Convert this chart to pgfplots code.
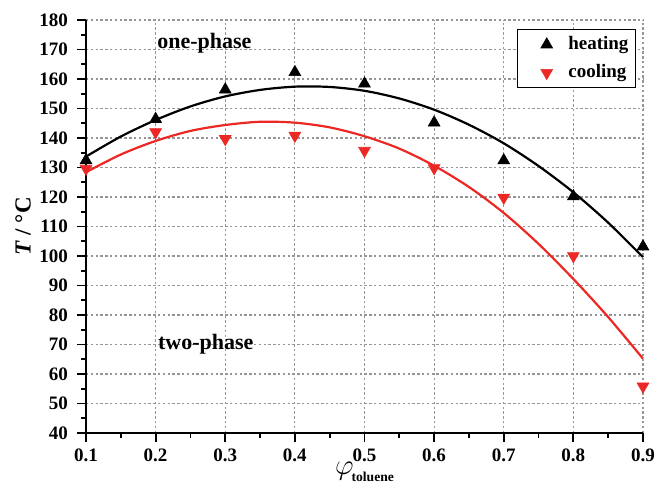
\documentclass[border=0pt]{standalone}
\usepackage{fontspec}
\setmainfont{Liberation Serif}
\usepackage{pgfplots}
\pgfplotsset{compat=1.18}
\definecolor{myred}{RGB}{236,40,36}
\definecolor{gridgray}{RGB}{150,150,150}
\begin{document}
\begin{tikzpicture}
\begin{axis}[
  name=main,
  scale only axis,
  width=278.5pt, height=206.5pt,
  xmin=0.1, xmax=0.9, ymin=40, ymax=180,
  xtick={0.1,0.2,...,0.9},
  ytick={40,50,...,180},
  xticklabels={0.1,0.2,0.3,0.4,0.5,0.6,0.7,0.8,0.9},
  minor x tick num=1, minor y tick num=1,
  axis lines*=left,
  axis line style={line width=1.1pt},
  tick align=outside,
  major tick length=4.5pt, minor tick length=2.5pt,
  every tick/.style={black, line width=0.9pt},
  xmajorgrids=true, ymajorgrids=true,
  grid style={gridgray, dash pattern=on 1.2pt off 1.2pt, line width=0.55pt},
  major grid style={gridgray, dash pattern=on 1.2pt off 1.2pt, line width=0.55pt},
  /pgf/number format/assume math mode=true,
  ticklabel style={font=\fontsize{9.5}{11}\selectfont\bfseries},
  yticklabel style={xshift=-1pt},
  clip=false,
  legend style={at={(1,1)}, anchor=north east, xshift=-3.5pt, yshift=-4.5pt,
    draw=black, line width=0.5pt, font=\fontsize{9.5}{11}\selectfont\bfseries,
    row sep=2pt, inner xsep=1.5pt, inner ysep=1.5pt},
  legend cell align=left,
]
\addplot[only marks, mark=triangle*, mark size=3.4pt, black, mark options={line width=0.3pt},
  legend image code/.code={\path (0cm,0cm) (0.75cm,0cm); \draw[mark repeat=2,mark phase=2] plot coordinates {(0cm,0cm)(0.45cm,0cm)(0.75cm,0cm)};}] coordinates {
(0.1,132.4) (0.2,146.4) (0.3,156.4) (0.4,162.3) (0.5,158.4) (0.6,145.2) (0.7,132.4) (0.8,120.2) (0.9,103.2)};
\addlegendentry{heating}
\addplot[only marks, mark=triangle*, mark size=3.4pt, myred, mark options={rotate=180, line width=0.3pt},
  legend image code/.code={\path (0cm,0cm) (0.75cm,0cm); \draw[mark repeat=2,mark phase=2] plot coordinates {(0cm,0cm)(0.45cm,0cm)(0.75cm,0cm)};}] coordinates {
(0.1,129.6) (0.2,142.0) (0.3,139.7) (0.4,140.8) (0.5,135.7) (0.6,129.8) (0.7,119.8) (0.8,100.0) (0.9,55.8)};
\addlegendentry{cooling}
\addplot[black, line width=1.1pt, smooth, forget plot] coordinates {
(0.1,133.7) (0.15,140.5) (0.2,146.1) (0.25,150.7) (0.3,154.1) (0.35,156.3) (0.4,157.4) (0.45,157.3) (0.5,156.0) (0.55,153.4) (0.6,149.6) (0.65,144.5) (0.7,138.2) (0.75,130.5) (0.8,121.6) (0.85,111.3) (0.9,99.6)};
\addplot[myred, line width=1.1pt, smooth, forget plot] coordinates {
(0.1,128.4) (0.15,134.4) (0.2,139.0) (0.25,142.4) (0.3,144.4) (0.35,145.5) (0.4,145.2) (0.45,143.6) (0.5,140.6) (0.55,136.4) (0.6,130.6) (0.65,123.4) (0.7,114.6) (0.75,104.1) (0.8,92.2) (0.85,79.3) (0.9,65.2)};
\node[font=\fontsize{11}{12}\selectfont\bfseries] at (axis cs:0.270,172.2) {one-phase};
\node[font=\fontsize{11}{12}\selectfont\bfseries] at (axis cs:0.272,70.2) {two-phase};
\node[font=\fontsize{11.5}{13}\selectfont\bfseries, rotate=90] at ([xshift=-31.5pt]rel axis cs:0,0.5) {\textit{T} / °C};
\node[anchor=center, inner sep=0pt] at ([yshift=-19.5pt]rel axis cs:0.5,0) {\fontsize{14}{15}\selectfont$\varphi$\kern-1pt\raisebox{-3.5pt}{\fontsize{6.8}{8}\selectfont\bfseries toluene}};
\end{axis}
\pgfresetboundingbox
\path[use as bounding box] ([shift={(-43pt,-29pt)}]main.south west) rectangle ([shift={(6.5pt,10pt)}]main.north east);
\end{tikzpicture}
\end{document}
